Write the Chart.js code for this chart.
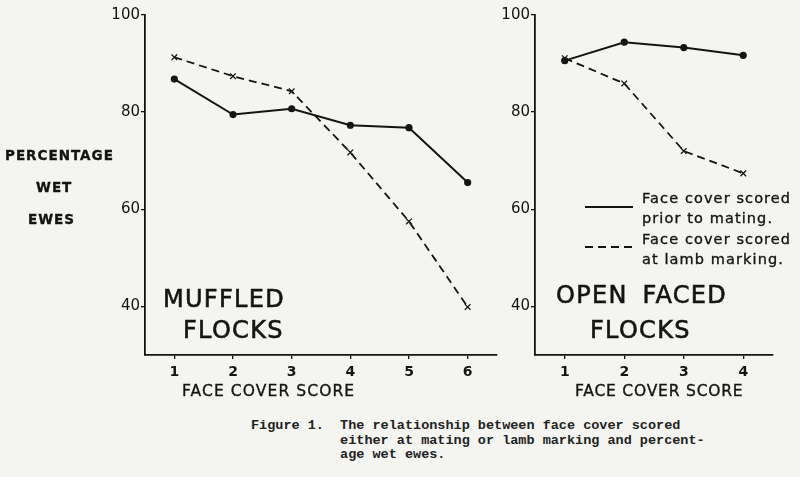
<!DOCTYPE html>
<html>
<head>
  <title>Face cover score and percentage wet ewes</title>
  <script src="https://cdn.jsdelivr.net/npm/chart.js"></script>
  <style>
    body { margin: 0; background: #f4f4f1; }
    #page { position: relative; width: 800px; height: 477px; overflow: hidden; font-family: "DejaVu Sans", sans-serif; color: #141414; }
    .box { position: absolute; }
    .lbl { position: absolute; white-space: nowrap; line-height: 1; -webkit-text-stroke: 0.35px #141414; }
    .big { font-size: 24px; letter-spacing: 1.3px; -webkit-text-stroke: 0.6px #141414; }
    .leg { font-size: 14.5px; letter-spacing: 1.1px; line-height: 20px; }
    .caption { position: absolute; left: 251px; top: 419px; font-family: "Liberation Mono", monospace; font-size: 13.5px; line-height: 14.5px; white-space: pre; color: #222; font-weight: bold; }
  </style>
</head>
<body>
<div id="page">
  <div class="box" style="left:100px; top:0; width:410px; height:400px;"><canvas id="muffled"></canvas></div>
  <div class="box" style="left:490px; top:0; width:300px; height:400px;"><canvas id="open"></canvas></div>

  <!-- y axis title -->
  <div class="lbl" style="left:5px; top:149px; font-size:13.5px; font-weight:bold; letter-spacing:1px;">PERCENTAGE</div>
  <div class="lbl" style="left:36px; top:181px; font-size:13.5px; font-weight:bold; letter-spacing:1px;">WET</div>
  <div class="lbl" style="left:28px; top:213px; font-size:13.5px; font-weight:bold; letter-spacing:1px;">EWES</div>

  <!-- x axis titles -->
  <div class="lbl" style="left:182px; top:384px; font-size:15.5px; letter-spacing:1.1px;">FACE COVER SCORE</div>
  <div class="lbl" style="left:575px; top:384px; font-size:15.5px; letter-spacing:0.8px;">FACE COVER SCORE</div>

  <!-- panel names -->
  <div class="lbl big" style="left:163px; top:287px;">MUFFLED</div>
  <div class="lbl big" style="left:183px; top:318px;">FLOCKS</div>
  <div class="lbl big" style="left:556px; top:283px; word-spacing:6px;">OPEN FACED</div>
  <div class="lbl big" style="left:590px; top:318px;">FLOCKS</div>

  <!-- legend -->
  <div class="box" style="left:585px; top:206px; width:48px; border-top:2px solid #141414;"></div>
  <div class="box" style="left:585px; top:246px; width:48px; height:2px; background:repeating-linear-gradient(90deg,#141414 0 8px,transparent 8px 13px);"></div>
  <div class="lbl leg" style="left:642px; top:188px;">Face cover scored<br>prior to mating.</div>
  <div class="lbl leg" style="left:642px; top:229px;">Face cover scored<br>at lamb marking.</div>

  <div class="caption">Figure 1.  The relationship between face cover scored
           either at mating or lamb marking and percent-
           age wet ewes.</div>
</div>
<script>
  // values
  const yTicks = [40, 60, 80, 100];

  const muffledScores = [1, 2, 3, 4, 5, 6];
  const muffledMating = [86.8, 79.5, 80.7, 77.3, 76.8, 65.5];
  const muffledMarking = [91.3, 87.4, 84.3, 71.7, 57.5, 39.9];

  const openScores = [1, 2, 3, 4];
  const openMating = [90.6, 94.4, 93.3, 91.7];
  const openMarking = [91.1, 85.9, 72.0, 67.4];

  const INK = '#141414';

  function points(xs, ys) {
    return xs.map((x, i) => ({ x: x, y: ys[i] }));
  }

  function makeChart(id, scores, mating, marking, padRight) {
    return new Chart(document.getElementById(id), {
      type: 'line',
      data: {
        datasets: [{
          label: 'Face cover scored prior to mating.',
          data: points(scores, mating),
          borderColor: INK,
          backgroundColor: INK,
          borderWidth: 2,
          pointStyle: 'circle',
          pointRadius: 2.6,
          tension: 0
        }, {
          label: 'Face cover scored at lamb marking.',
          data: points(scores, marking),
          borderColor: INK,
          backgroundColor: INK,
          borderWidth: 1.8,
          borderDash: [8, 5],
          pointStyle: 'crossRot',
          pointRadius: 4,
          pointBorderWidth: 1.3,
          tension: 0
        }]
      },
      options: {
        responsive: true,
        maintainAspectRatio: false,
        animation: false,
        layout: { padding: { top: 15, right: padRight, left: 0, bottom: 0 } },
        plugins: { legend: { display: false }, tooltip: { enabled: false } },
        scales: {
          x: {
            type: 'linear',
            min: 0.5,
            max: scores.length + 0.5,
            afterBuildTicks: (s) => { s.ticks = scores.map(v => ({ value: v })); },
            afterFit: (s) => { s.height = 45; },
            border: { color: INK, width: 1.8 },
            grid: { drawOnChartArea: false, color: INK, tickLength: 4, lineWidth: 1.3 },
            ticks: { color: INK, padding: 5, font: { family: 'DejaVu Sans', size: 14, weight: 'bold' } }
          },
          y: {
            min: 30,
            max: 100,
            afterBuildTicks: (s) => { s.ticks = yTicks.map(v => ({ value: v })); },
            afterFit: (s) => { s.width = 45; },
            border: { color: INK, width: 1.8 },
            grid: { drawOnChartArea: false, color: INK, tickLength: 4, lineWidth: 1.3 },
            ticks: { color: INK, padding: 1, font: { family: 'DejaVu Sans', size: 15 } }
          }
        }
      }
    });
  }

  makeChart('muffled', muffledScores, muffledMating, muffledMarking, 13);
  makeChart('open', openScores, openMating, openMarking, 17);
</script>
</body>
</html>
